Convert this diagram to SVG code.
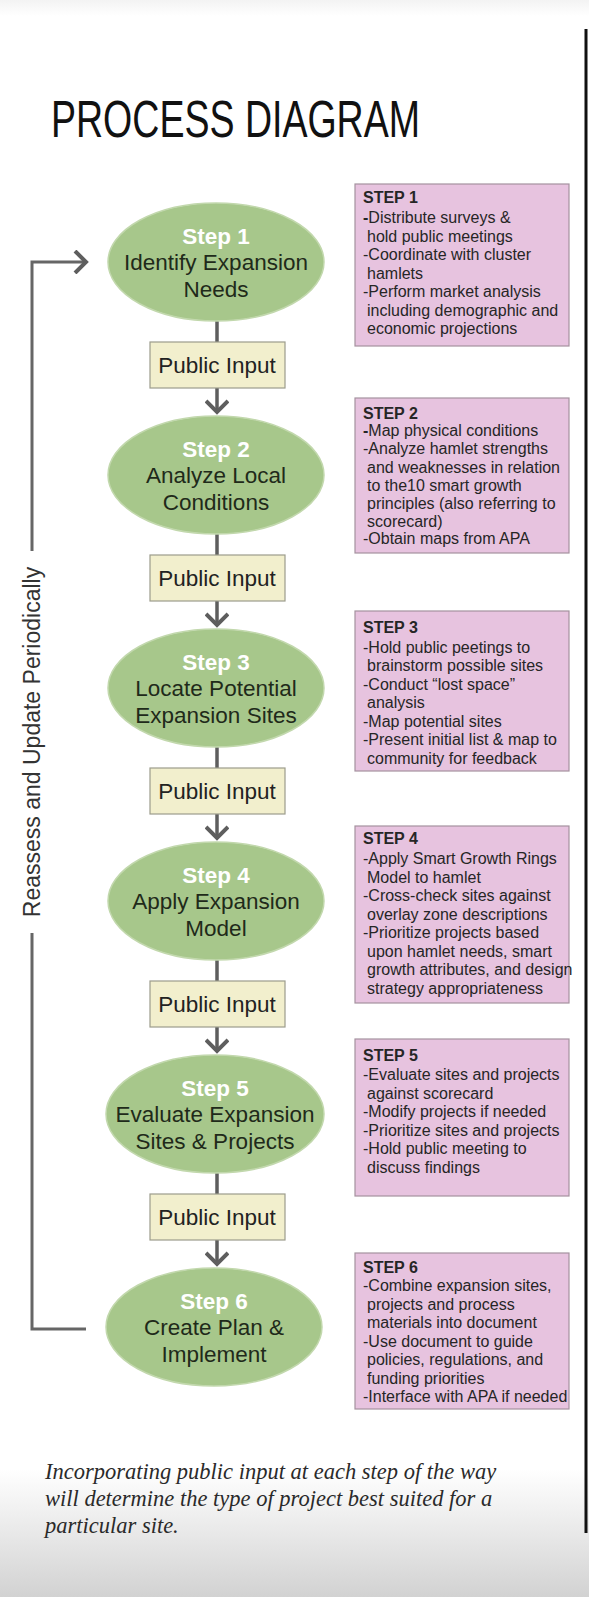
<svg xmlns="http://www.w3.org/2000/svg" width="589" height="1597" viewBox="0 0 589 1597">
<defs>
<linearGradient id="bg" x1="0" y1="0" x2="0" y2="1597" gradientUnits="userSpaceOnUse">
<stop offset="0" stop-color="#f3f3f3"/>
<stop offset="0.01" stop-color="#ffffff"/>
<stop offset="0.92" stop-color="#ffffff"/>
<stop offset="1" stop-color="#d2d2d2"/>
</linearGradient>
<marker id="chev" viewBox="0 0 20 24" refX="17" refY="12" markerWidth="20" markerHeight="24" markerUnits="userSpaceOnUse" orient="auto">
<path d="M6,1 L17,12 L6,23" fill="none" stroke="#5e5e5e" stroke-width="4"/>
</marker>
<style>
.ell{fill:#a7c78b;stroke:#c2d8ad;stroke-width:1.5}
.lbl{font-family:"Liberation Sans",Arial,sans-serif;font-size:22.5px;font-weight:bold;fill:#ffffff;text-anchor:middle}
.body{font-family:"Liberation Sans",Arial,sans-serif;font-size:22.5px;fill:#1f2a1a;text-anchor:middle}
.pi{fill:#f2efcd;stroke:#9c9c8c;stroke-width:1.2}
.pit{font-family:"Liberation Sans",Arial,sans-serif;font-size:22.5px;fill:#222;text-anchor:middle}
.pk{fill:#e7c3df;stroke:#a5929f;stroke-width:1.2}
.pkt{font-family:"Liberation Sans",Arial,sans-serif;font-size:16px;fill:#262626}
.hd{font-weight:bold}
.con{fill:none;stroke:#5e5e5e;stroke-width:3.5}
.fb{fill:none;stroke:#666;stroke-width:3}
</style>
</defs>
<rect x="0" y="0" width="589" height="1597" fill="url(#bg)"/>
<line x1="586" y1="29" x2="586" y2="1533" stroke="#111" stroke-width="3"/>
<text x="51" y="137" font-family="'Liberation Sans',Arial,sans-serif" font-size="52" fill="#111" textLength="369" lengthAdjust="spacingAndGlyphs">PROCESS DIAGRAM</text>

<g id="connectors">
<line class="con" x1="217" y1="321" x2="217" y2="342"/>
<line class="con" x1="217" y1="388" x2="217" y2="412" marker-end="url(#chev)"/>
<line class="con" x1="217" y1="534" x2="217" y2="555"/>
<line class="con" x1="217" y1="601" x2="217" y2="625" marker-end="url(#chev)"/>
<line class="con" x1="217" y1="747" x2="217" y2="768"/>
<line class="con" x1="217" y1="814" x2="217" y2="838" marker-end="url(#chev)"/>
<line class="con" x1="217" y1="960" x2="217" y2="981"/>
<line class="con" x1="217" y1="1027" x2="217" y2="1051" marker-end="url(#chev)"/>
<line class="con" x1="217" y1="1173" x2="217" y2="1194"/>
<line class="con" x1="217" y1="1240" x2="217" y2="1264" marker-end="url(#chev)"/>
<polyline class="fb" points="86,1329 32,1329 32,933"/>
<polyline class="fb" points="32,551 32,262 86,262" marker-end="url(#chev)"/>
<text x="0" y="0" transform="translate(40,742) rotate(-90)" font-family="'Liberation Sans',Arial,sans-serif" font-size="23" fill="#333" text-anchor="middle">Reassess and Update Periodically</text>
</g>

<g id="step1">
<ellipse class="ell" cx="216" cy="262" rx="108" ry="59"/>
<text class="lbl" x="216" y="244">Step 1</text>
<text class="body" x="216" y="270">Identify Expansion</text>
<text class="body" x="216" y="297">Needs</text>
</g>
<g id="input1"><rect class="pi" x="150" y="342" width="135" height="46"/><text class="pit" x="217" y="373">Public Input</text></g>
<g id="step2">
<ellipse class="ell" cx="216" cy="475" rx="108" ry="59"/>
<text class="lbl" x="216" y="457">Step 2</text>
<text class="body" x="216" y="483">Analyze Local</text>
<text class="body" x="216" y="510">Conditions</text>
</g>
<g id="input2"><rect class="pi" x="150" y="555" width="135" height="46"/><text class="pit" x="217" y="586">Public Input</text></g>
<g id="step3">
<ellipse class="ell" cx="216" cy="688" rx="108" ry="59"/>
<text class="lbl" x="216" y="670">Step 3</text>
<text class="body" x="216" y="696">Locate Potential</text>
<text class="body" x="216" y="723">Expansion Sites</text>
</g>
<g id="input3"><rect class="pi" x="150" y="768" width="135" height="46"/><text class="pit" x="217" y="799">Public Input</text></g>
<g id="step4">
<ellipse class="ell" cx="216" cy="901" rx="108" ry="59"/>
<text class="lbl" x="216" y="883">Step 4</text>
<text class="body" x="216" y="909">Apply Expansion</text>
<text class="body" x="216" y="936">Model</text>
</g>
<g id="input4"><rect class="pi" x="150" y="981" width="135" height="46"/><text class="pit" x="217" y="1012">Public Input</text></g>
<g id="step5">
<ellipse class="ell" cx="215" cy="1114" rx="109" ry="59"/>
<text class="lbl" x="215" y="1096">Step 5</text>
<text class="body" x="215" y="1122">Evaluate Expansion</text>
<text class="body" x="215" y="1149">Sites &amp; Projects</text>
</g>
<g id="input5"><rect class="pi" x="150" y="1194" width="135" height="46"/><text class="pit" x="217" y="1225">Public Input</text></g>
<g id="step6">
<ellipse class="ell" cx="214" cy="1327" rx="108" ry="59"/>
<text class="lbl" x="214" y="1309">Step 6</text>
<text class="body" x="214" y="1335">Create Plan &amp;</text>
<text class="body" x="214" y="1362">Implement</text>
</g>

<g id="note1">
<rect class="pk" x="355" y="184" width="214" height="162"/>
<text class="pkt">
<tspan class="hd" x="363" y="203">STEP 1</tspan>
<tspan x="363" y="223"><tspan class="hd">-</tspan>Distribute surveys &amp;</tspan>
<tspan x="367" y="241.5">hold public meetings</tspan>
<tspan x="363" y="260">-Coordinate with cluster</tspan>
<tspan x="367" y="278.5">hamlets</tspan>
<tspan x="363" y="297">-Perform market analysis</tspan>
<tspan x="367" y="315.5">including demographic and</tspan>
<tspan x="367" y="334">economic projections</tspan>
</text>
</g>
<g id="note2">
<rect class="pk" x="355" y="398" width="214" height="155"/>
<text class="pkt">
<tspan class="hd" x="363" y="418.5">STEP 2</tspan>
<tspan x="363" y="436"><tspan class="hd">-</tspan>Map physical conditions</tspan>
<tspan x="363" y="454">-Analyze hamlet strengths</tspan>
<tspan x="367" y="472.5">and weaknesses in relation</tspan>
<tspan x="367" y="491">to the10 smart growth</tspan>
<tspan x="367" y="509">principles (also referring to</tspan>
<tspan x="367" y="527">scorecard)</tspan>
<tspan x="363" y="544">-Obtain maps from APA</tspan>
</text>
</g>
<g id="note3">
<rect class="pk" x="355" y="611" width="214" height="160"/>
<text class="pkt">
<tspan class="hd" x="363" y="632.5">STEP 3</tspan>
<tspan x="363" y="652.5">-Hold public peetings to</tspan>
<tspan x="367" y="671">brainstorm possible sites</tspan>
<tspan x="363" y="689.5">-Conduct “lost space”</tspan>
<tspan x="367" y="708">analysis</tspan>
<tspan x="363" y="726.5">-Map potential sites</tspan>
<tspan x="363" y="745">-Present initial list &amp; map to</tspan>
<tspan x="367" y="763.5">community for feedback</tspan>
</text>
</g>
<g id="note4">
<rect class="pk" x="355" y="826" width="214" height="177"/>
<text class="pkt">
<tspan class="hd" x="363" y="844">STEP 4</tspan>
<tspan x="363" y="864">-Apply Smart Growth Rings</tspan>
<tspan x="367" y="882.5">Model to hamlet</tspan>
<tspan x="363" y="901">-Cross-check sites against</tspan>
<tspan x="367" y="919.5">overlay zone descriptions</tspan>
<tspan x="363" y="938">-Prioritize projects based</tspan>
<tspan x="367" y="956.5">upon hamlet needs, smart</tspan>
<tspan x="367" y="975">growth attributes, and design</tspan>
<tspan x="367" y="993.5">strategy appropriateness</tspan>
</text>
</g>
<g id="note5">
<rect class="pk" x="355" y="1039" width="214" height="157"/>
<text class="pkt">
<tspan class="hd" x="363" y="1060.5">STEP 5</tspan>
<tspan x="363" y="1080">-Evaluate sites and projects</tspan>
<tspan x="367" y="1098.5">against scorecard</tspan>
<tspan x="363" y="1117">-Modify projects if needed</tspan>
<tspan x="363" y="1135.5">-Prioritize sites and projects</tspan>
<tspan x="363" y="1154">-Hold public meeting to</tspan>
<tspan x="367" y="1172.5">discuss findings</tspan>
</text>
</g>
<g id="note6">
<rect class="pk" x="355" y="1253" width="214" height="156"/>
<text class="pkt">
<tspan class="hd" x="363" y="1272.5">STEP 6</tspan>
<tspan x="363" y="1291">-Combine expansion sites,</tspan>
<tspan x="367" y="1309.5">projects and process</tspan>
<tspan x="367" y="1328">materials into document</tspan>
<tspan x="363" y="1346.5">-Use document to guide</tspan>
<tspan x="367" y="1365">policies, regulations, and</tspan>
<tspan x="367" y="1383.5">funding priorities</tspan>
<tspan x="363" y="1402">-Interface with APA if needed</tspan>
</text>
</g>

<text font-family="'Liberation Serif','Times New Roman',serif" font-style="italic" font-size="22.5" fill="#2a2a2a">
<tspan x="45" y="1479">Incorporating public input at each step of the way</tspan>
<tspan x="45" y="1506">will determine the type of project best suited for a</tspan>
<tspan x="45" y="1533">particular site.</tspan>
</text>
</svg>
